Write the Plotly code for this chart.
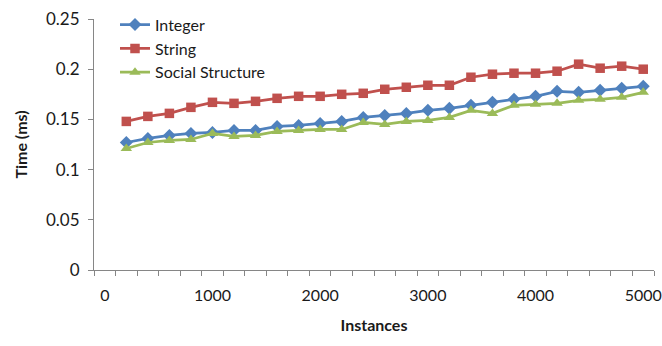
import plotly.graph_objects as go

instances = [200, 400, 600, 800, 1000, 1200, 1400, 1600, 1800, 2000, 2200, 2400, 2600,
             2800, 3000, 3200, 3400, 3600, 3800, 4000, 4200, 4400, 4600, 4800, 5000]
integer_ms = [0.127, 0.131, 0.134, 0.136, 0.137, 0.139, 0.139, 0.143, 0.144, 0.146, 0.148, 0.152, 0.154,
              0.156, 0.159, 0.161, 0.164, 0.167, 0.170, 0.173, 0.178, 0.177, 0.179, 0.181, 0.183]
string_ms = [0.148, 0.153, 0.156, 0.162, 0.167, 0.166, 0.168, 0.171, 0.173, 0.173, 0.175, 0.176, 0.180,
             0.182, 0.184, 0.184, 0.192, 0.195, 0.196, 0.196, 0.198, 0.205, 0.201, 0.203, 0.200]
social_ms = [0.121, 0.127, 0.129, 0.130, 0.136, 0.133, 0.134, 0.138, 0.139, 0.140, 0.140, 0.147, 0.145,
             0.148, 0.149, 0.152, 0.159, 0.156, 0.164, 0.165, 0.166, 0.169, 0.170, 0.172, 0.177]
x_ticks = [0, 1000, 2000, 3000, 4000, 5000]
y_ticks = [0, 0.05, 0.1, 0.15, 0.2, 0.25]

series = [
    ("Integer", integer_ms, "#4F81BD", "diamond", 10),
    ("String", string_ms, "#C0504D", "square", 9.5),
    ("Social Structure", social_ms, "#9BBB59", "triangle-up", 10),
]

fig = go.Figure()
for name, vals, color, sym, size in series:
    fig.add_trace(go.Scatter(
        x=instances, y=vals, name=name, mode="lines+markers",
        line=dict(color=color, width=2.75),
        marker=dict(symbol=sym, size=size, color=color),
    ))

axis_color = "#868686"
font_family = "Lato, 'Open Sans', sans-serif"

fig.update_layout(
    width=662, height=346,
    margin=dict(l=94, r=8, t=14, b=75.5),
    paper_bgcolor="white", plot_bgcolor="white",
    font=dict(family=font_family, size=17, color="#1a1a1a"),
    showlegend=True,
    legend=dict(x=0.0375, y=1.045, xanchor="left", yanchor="top",
                bgcolor="rgba(0,0,0,0)", font=dict(size=16),
                itemwidth=30, tracegroupgap=0),
)
fig.update_xaxes(
    range=[-100, 5100], tickvals=x_ticks, ticktext=[str(v) for v in x_ticks],
    ticks="", showgrid=False, zeroline=False, automargin=False,
    showline=True, linecolor=axis_color, linewidth=1,
    minor=dict(tick0=-100, dtick=200, ticks="outside", ticklen=5,
               tickcolor=axis_color, showgrid=False),
    ticklabelstandoff=11, ticklabeloverflow="allow", tickfont=dict(size=16),
    title=dict(text="<b>Instances</b>", font=dict(size=16), standoff=16),
)
fig.update_yaxes(
    range=[0, 0.25], tickvals=y_ticks, ticktext=["0", "0.05", "0.1", "0.15", "0.2", "0.25"],
    ticks="outside", ticklen=5, tickcolor=axis_color, automargin=False,
    showgrid=False, zeroline=False, ticklabelstandoff=5,
    showline=True, linecolor=axis_color, linewidth=1,
    title=dict(text="<b>Time (ms)</b>", font=dict(size=16), standoff=14),
)

fig.write_html("out.html", config={"displayModeBar": False},
               post_script="document.body.style.margin='0px';")
